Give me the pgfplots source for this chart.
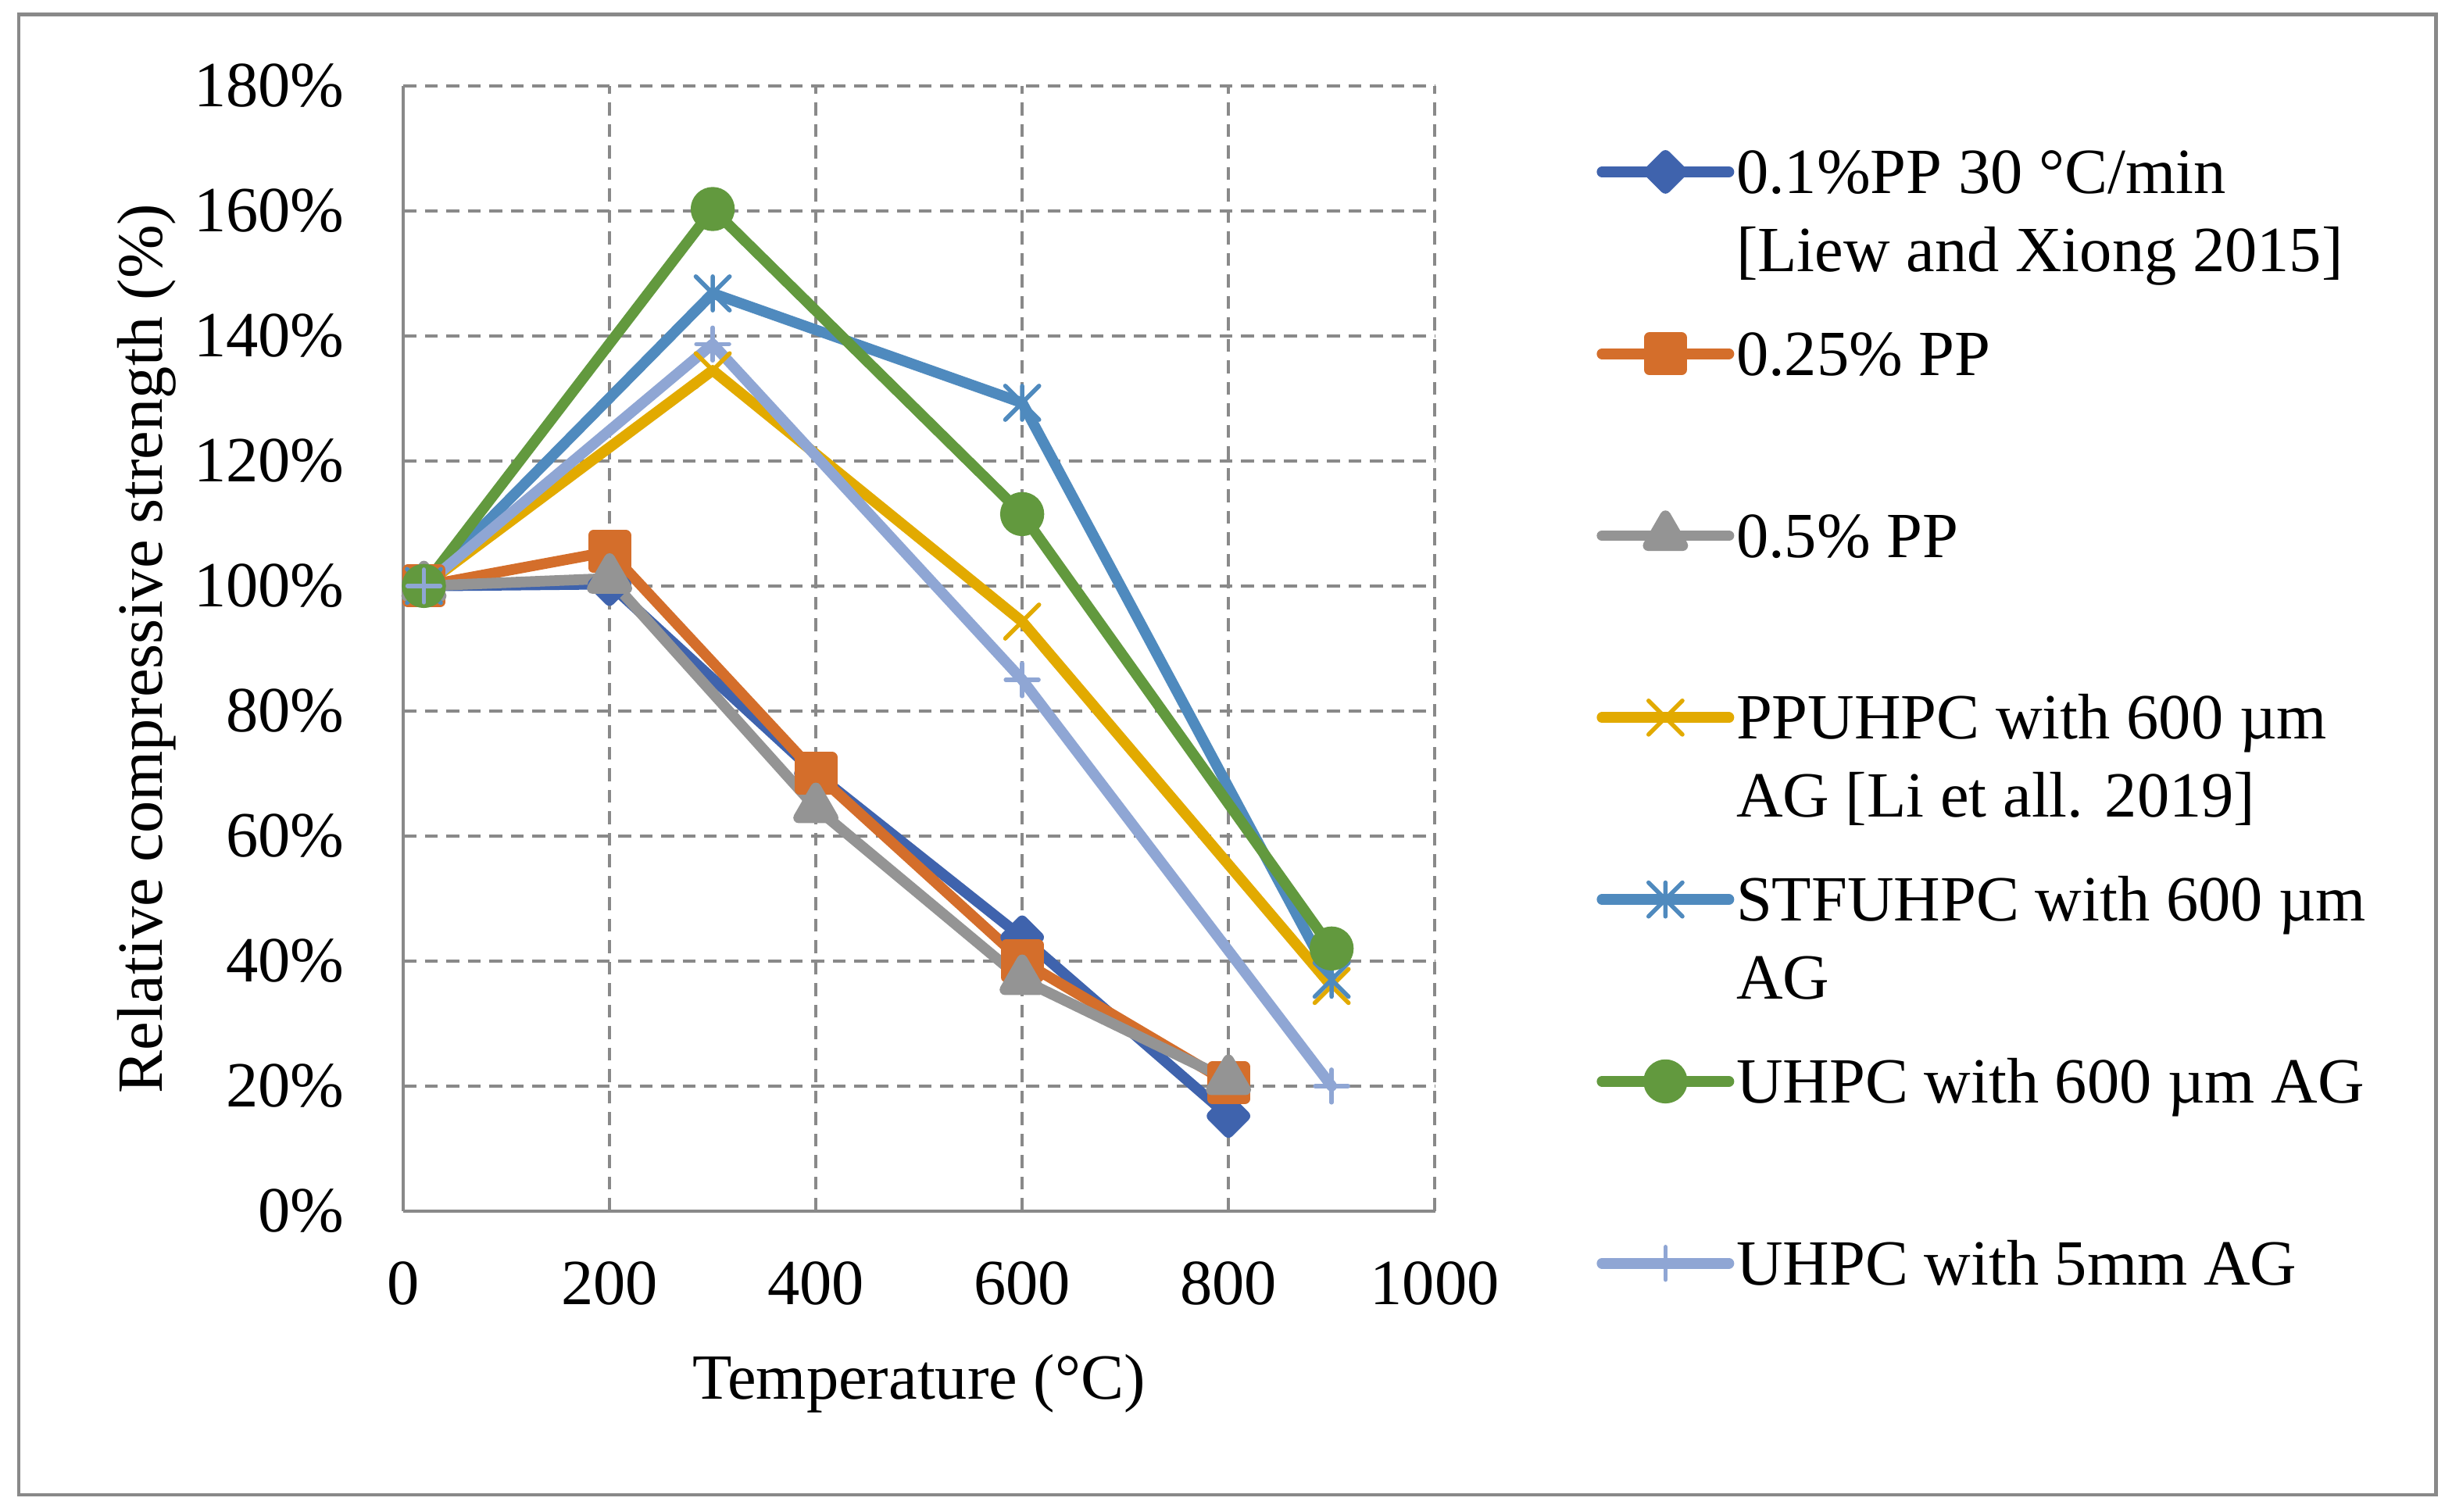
\documentclass[12pt,border=0pt]{standalone}
\usepackage{fontspec}
\setmainfont{Liberation Serif}
\usepackage{pgfplots}
\pgfplotsset{compat=1.18}
\usetikzlibrary{plotmarks}

\definecolor{dblue}{HTML}{3F63AD}
\definecolor{xorange}{HTML}{D46E2B}
\definecolor{xgray}{HTML}{949494}
\definecolor{xyellow}{HTML}{E2AA00}
\definecolor{mblue}{HTML}{4F8ABE}
\definecolor{xgreen}{HTML}{62993E}
\definecolor{lblue}{HTML}{8FA6D4}
\definecolor{gridgray}{HTML}{898989}

% Excel style star: vertical bar plus an x
\pgfdeclareplotmark{xlstar}{%
  \pgfpathmoveto{\pgfqpoint{0pt}{-\pgfplotmarksize}}%
  \pgfpathlineto{\pgfqpoint{0pt}{\pgfplotmarksize}}%
  \pgfpathmoveto{\pgfqpoint{-\pgfplotmarksize}{-\pgfplotmarksize}}%
  \pgfpathlineto{\pgfqpoint{\pgfplotmarksize}{\pgfplotmarksize}}%
  \pgfpathmoveto{\pgfqpoint{-\pgfplotmarksize}{\pgfplotmarksize}}%
  \pgfpathlineto{\pgfqpoint{\pgfplotmarksize}{-\pgfplotmarksize}}%
  \pgfusepathqstroke}

\pgfplotsset{
  xl/.style={line width=2.0pt, line join=round, line cap=round,
    mark options={solid, line width=0.6pt}},
  xlthin/.style={mark options={line width=0.8pt}},
}

\begin{document}
\begin{tikzpicture}
\useasboundingbox (0,0) rectangle (16cm,9.894cm);
\fill[white] (0,0) rectangle (16cm,9.894cm);
\draw[gridgray, line width=0.65pt] (0.122cm,0.113cm) rectangle (15.94cm,9.80cm);
\begin{axis}[
  at={(2.639cm,1.969cm)}, anchor=south west,
  scale only axis, width=6.750cm, height=7.363cm,
  xmin=0, xmax=1000, ymin=0, ymax=180,
  xtick={0,200,...,1000}, ytick={0,20,...,180},
  yticklabel={\pgfmathprintnumber{\tick}\%},
  /pgf/number format/assume math mode=true,
  /pgf/number format/1000 sep={},
  axis x line*=bottom, axis y line*=left,
  axis line style={gridgray, line width=0.65pt},
  major tick length=0pt,
  grid=major,
  major grid style={gridgray, line width=0.63pt, dash pattern=on 2.4pt off 1.6pt},
  xticklabel style={anchor=north, inner sep=0pt, yshift=-9.2pt},
  yticklabel style={anchor=east, inner sep=0pt, xshift=-10.8pt},
  xlabel={Temperature (°C)},
  ylabel={Relative compressive strength (\%)},
  xlabel style={at={(axis description cs:0.5,-0.1668)}, anchor=base, inner sep=0pt},
  ylabel style={at={(axis description cs:-0.2335,0.5)}, anchor=base, inner sep=0pt},
  legend style={draw=none, fill=none, at={(axis description cs:1.157,0.9526)},
    anchor=north west, inner sep=0pt, outer sep=0pt,
    row sep=5.07pt, column sep=0.4pt,
    cells={anchor=base west},
    nodes={inner sep=0pt, outer sep=0pt, text height=10.08pt, text depth=18.72pt, anchor=base west}},
  legend image code/.code={\draw[mark repeat=2, mark phase=2, #1]
    plot coordinates {(0pt,4pt) (11.8pt,4pt) (23.6pt,4pt)};},
]
\addplot[xl, dblue, mark=square*, mark size=2.16pt, mark options={rotate=45, fill=dblue}]
  coordinates {(20,100) (200,100.3) (400,70) (600,43.8) (800,15.2)};
\addlegendentry{\begin{tabular}[t]{@{}l@{}}0.1\%PP 30 °C/min\\{}[Liew and Xiong 2015]\end{tabular}}
\addplot[xl, xorange, mark=square*, mark size=3.0pt, mark options={fill=xorange}]
  coordinates {(20,100) (200,105.5) (400,70) (600,40) (800,20.5)};
\addlegendentry{0.25\% PP}
\addplot[xl, xgray, mark=triangle*, mark size=3.7pt, mark options={fill=xgray}]
  coordinates {(20,100) (200,101.2) (400,64.5) (600,37) (800,21)};
\addlegendentry{0.5\% PP}
\addplot[xl, xlthin, xyellow, mark=x, mark size=4.45pt]
  coordinates {(20,100) (300,134.5) (600,94.3) (900,36)};
\addlegendentry{\begin{tabular}[t]{@{}l@{}}PPUHPC with 600 µm\\AG [Li et all. 2019]\end{tabular}}
\addplot[xl, xlthin, mblue, mark=xlstar, mark size=3.15pt]
  coordinates {(20,100) (300,146.8) (600,129.3) (900,37)};
\addlegendentry{\begin{tabular}[t]{@{}l@{}}STFUHPC with 600 µm\\AG\end{tabular}}
\addplot[xl, xgreen, mark=*, mark size=3.1pt, mark options={fill=xgreen}]
  coordinates {(20,100) (300,160.3) (600,111.5) (900,42)};
\addlegendentry{UHPC with 600 µm AG}
\addplot[xl, xlthin, lblue, mark=+, mark size=3.05pt]
  coordinates {(20,100) (300,138.7) (600,85) (900,20)};
\addlegendentry{UHPC with 5mm AG}
\end{axis}
\end{tikzpicture}
\end{document}
